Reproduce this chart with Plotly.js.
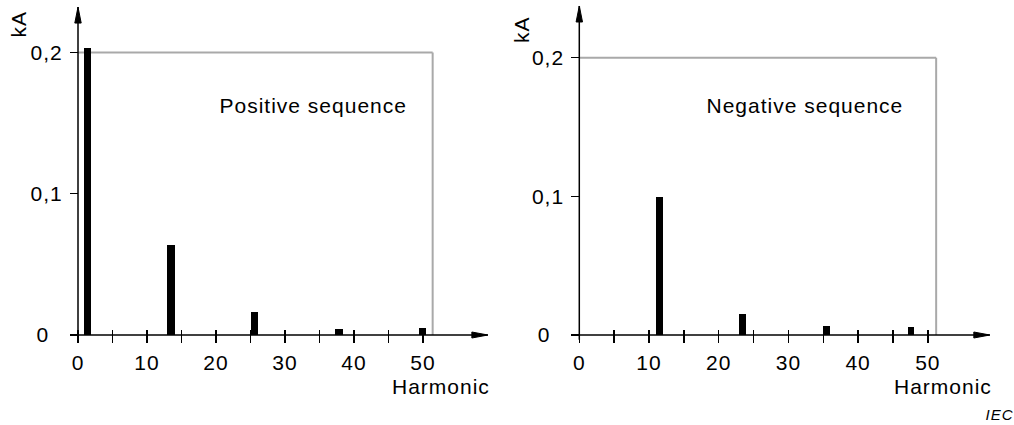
<!DOCTYPE html>
<html>
<head>
<meta charset="utf-8">
<script src="https://cdn.plot.ly/plotly-3.0.1.min.js"></script>
<style>
  html, body { margin: 0; padding: 0; background: #fff; }
  #chart { width: 1014px; height: 425px; }
  .main-svg text { letter-spacing: 1px; }
</style>
</head>
<body>
<div id="chart"></div>
<script>
// ---- data ----
const posHarmonic = [1.4, 13.5, 25.6, 37.8, 49.9];
const posCurrent  = [0.203, 0.064, 0.016, 0.004, 0.005];
const negHarmonic = [11.5, 23.4, 35.5, 47.6];
const negCurrent  = [0.0995, 0.0152, 0.0065, 0.006];

const xTickVals  = [0, 5, 10, 15, 20, 25, 30, 35, 40, 45, 50];
const xTickText  = ['0', '', '10', '', '20', '', '30', '', '40', '', '50'];
const yTickVals  = [0, 0.1, 0.2];
const yTickText  = ['0\u00a0\u00a0', '0,1', '0,2'];
const panelTitles = ['Positive sequence', 'Negative sequence'];
const xTitle = 'Harmonic';
const yTitle = 'kA';
const sourceText = 'IEC';

const FONT = 'Liberation Sans, Arial, Helvetica, sans-serif';
const W = 1014, H = 425;
const px = v => v / W;
const py = v => 1 - v / H;

const traces = [
  { type: 'bar', x: posHarmonic, y: posCurrent, xaxis: 'x', yaxis: 'y',
    width: 1.1, marker: { color: '#000', line: { width: 0 } }, hoverinfo: 'x+y' },
  { type: 'bar', x: negHarmonic, y: negCurrent, xaxis: 'x2', yaxis: 'y2',
    width: 0.95, marker: { color: '#000', line: { width: 0 } }, hoverinfo: 'x+y' }
];

function xAxis(domain) {
  return {
    domain: domain, range: [-2, 60], anchor: 'free', position: 96 / H,
    tickmode: 'array', tickvals: xTickVals, ticktext: xTickText,
    ticks: 'outside', ticklen: 13, tickwidth: 1.5, tickcolor: '#000',
    showline: false, showgrid: false, zeroline: false,
    tickfont: { family: FONT, size: 21, color: '#000' }, ticklabelstandoff: 2,
    fixedrange: true
  };
}
function yAxis(range, pos) {
  return {
    domain: [0, 1], range: range, anchor: 'free', position: pos,
    tickmode: 'array', tickvals: yTickVals, ticktext: yTickText,
    ticks: 'outside', ticklen: 8, tickwidth: 1.5, tickcolor: '#000',
    showline: false, showgrid: false, zeroline: false,
    tickfont: { family: FONT, size: 21, color: '#000' }, ticklabelstandoff: 3,
    fixedrange: true
  };
}

function axisShapes(xr, yr, xLeft, xTip, yBottom, yTip, boxRight) {
  const blk = { color: '#000', width: 1.5 };
  return [
    // grey limit frame
    { type: 'line', xref: xr, yref: yr, x0: 0, x1: boxRight, y0: 0.2, y1: 0.2,
      line: { color: '#a9a9a9', width: 2 }, layer: 'below' },
    { type: 'line', xref: xr, yref: yr, x0: boxRight, x1: boxRight, y0: 0.2, y1: 0,
      line: { color: '#a9a9a9', width: 2 }, layer: 'below' },
    // axis lines
    { type: 'line', xref: xr, yref: yr, x0: xLeft, x1: xTip, y0: 0, y1: 0, line: blk, layer: 'above' },
    { type: 'line', xref: xr, yref: yr, x0: 0, x1: 0, y0: yBottom, y1: yTip, line: blk, layer: 'above' },
    // arrow heads
    { type: 'path', xref: xr, yref: yr, xsizemode: 'pixel', ysizemode: 'pixel',
      xanchor: xTip, yanchor: 0, path: 'M -16,3 L 0,0 L -16,-3 Z',
      fillcolor: '#000', line: { color: '#000', width: 1 } },
    { type: 'path', xref: xr, yref: yr, xsizemode: 'pixel', ysizemode: 'pixel',
      xanchor: 0, yanchor: yTip, path: 'M -3.2,-16 L 0,0 L 3.2,-16 Z',
      fillcolor: '#000', line: { color: '#000', width: 1 } }
  ];
}

const txt = (text, x, y, xa, extra) => Object.assign({
  text: text, xref: 'paper', yref: 'paper', x: px(x), y: py(y),
  xanchor: xa, yanchor: 'middle', showarrow: false,
  font: { family: FONT, size: 21, color: '#000' }
}, extra || {});

const layout = {
  width: W, height: H,
  margin: { l: 0, r: 0, t: 0, b: 0, pad: 0 },
  paper_bgcolor: '#fff', plot_bgcolor: 'rgba(0,0,0,0)',
  showlegend: false, bargap: 0,
  xaxis: xAxis([64.2 / W, 492 / W]),
  yaxis: yAxis([-0.0637, 0.2371], 78 / W),
  xaxis2: xAxis([565.36 / W, 997.5 / W]),
  yaxis2: yAxis([-0.06491, 0.24162], 579.3 / W),
  shapes: [].concat(
    axisShapes('x', 'y', -0.9, 59.4, -0.0035, 0.2321, 51.4),
    axisShapes('x2', 'y2', -0.86, 58.9, -0.0035, 0.2373, 51.2)
  ),
  annotations: [
    txt(yTitle, 17.5, 24, 'center', { textangle: -90 }),
    txt(yTitle, 522, 30, 'center', { textangle: -90 }),
    txt(panelTitles[0], 226, 106, 'left'),
    txt(panelTitles[1], 713, 106, 'left'),
    txt(xTitle, 488, 386, 'right'),
    txt(xTitle, 990, 386, 'right'),
    txt(sourceText, 1014, 414, 'right', { font: { family: FONT, size: 15, color: '#000', style: 'italic' } })
  ]
};

Plotly.newPlot('chart', traces, layout, { displayModeBar: false, staticPlot: true });
</script>
</body>
</html>
